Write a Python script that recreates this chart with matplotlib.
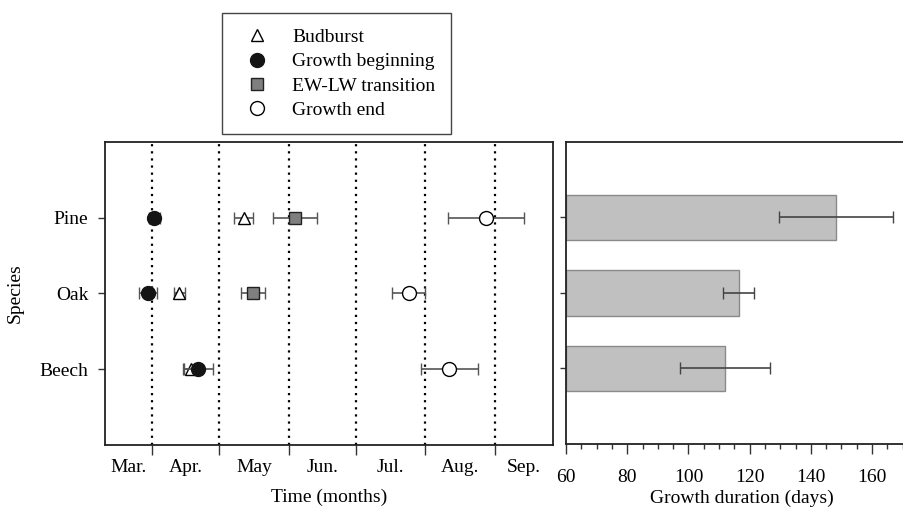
import numpy as np
import matplotlib
matplotlib.use('Agg')
import matplotlib.pyplot as plt
from matplotlib.lines import Line2D

plt.rcParams['font.family'] = ['Liberation Serif', 'DejaVu Serif']
plt.rcParams['font.size'] = 14

species = ['Beech', 'Oak', 'Pine']
ypos = np.arange(1, len(species) + 1)

# day of year, mean and error (Beech, Oak, Pine)
budburst = [108.4, 103.2, 131.9]
budburst_err = [3.0, 2.4, 4.3]
growth_begin = [111.5, 89.2, 92.0]
growth_begin_err = [6.9, 4.0, 2.5]
ewlw = [np.nan, 135.9, 154.7]
ewlw_err = [np.nan, 5.3, 9.9]
growth_end = [223.7, 205.6, 240.2]
growth_end_err = [12.7, 7.4, 17.0]

# growth duration (days)
duration = [112.1, 116.4, 148.3]
duration_err = [14.7, 5.0, 18.6]

month_starts = [91, 121, 152, 182, 213, 244]
month_names = ['Mar.', 'Apr.', 'May', 'Jun.', 'Jul.', 'Aug.', 'Sep.']
xmin, xmax = 70, 270

fig = plt.figure(figsize=(9.04, 5.08), dpi=100)
ax = fig.add_axes([0.1162, 0.124, 0.4956, 0.5965])
ax2 = fig.add_axes([0.6261, 0.126, 0.3894, 0.5945])

ecol = '#555555'
for m in month_starts:
    ax.axvline(m, color='black', linestyle=(0, (1, 2.2)), linewidth=1.6, zorder=1)

ax.errorbar(budburst, ypos, xerr=budburst_err, fmt='^', ms=9, mfc='white', mec='black',
            mew=1.0, ecolor=ecol, elinewidth=1.2, capsize=4.5, zorder=3)
ax.errorbar(ewlw, ypos, xerr=ewlw_err, fmt='s', ms=8, mfc='#7f7f7f', mec='#222222',
            mew=1.0, ecolor=ecol, elinewidth=1.2, capsize=4.5, zorder=3)
ax.errorbar(growth_end, ypos, xerr=growth_end_err, fmt='o', ms=10, mfc='white', mec='black',
            mew=1.0, ecolor=ecol, elinewidth=1.2, capsize=4.5, zorder=3)
ax.errorbar(growth_begin, ypos, xerr=growth_begin_err, fmt='o', ms=10, mfc='#141414', mec='#141414',
            mew=1.0, ecolor=ecol, elinewidth=1.2, capsize=4.5, zorder=4)

ax.set_xlim(xmin, xmax)
ax.set_ylim(0, 4)
ax.set_yticks(ypos)
ax.set_yticklabels(species)
ax.set_xticks(month_starts)
ax.set_xticklabels([])
edges = [xmin] + month_starts + [xmax]
mids = [(a + b) / 2 for a, b in zip(edges[:-1], edges[1:])]
ax.set_xticks(mids, minor=True)
ax.set_xticklabels(month_names, minor=True)
ax.tick_params(axis='x', which='major', direction='out', length=7, width=1, color='#333333')
ax.tick_params(axis='x', which='minor', length=0, pad=10)
ax.tick_params(axis='y', direction='out', length=5, width=1, color='#333333', pad=7)
ax.set_xlabel('Time (months)', labelpad=9)
ax.set_ylabel('Species', labelpad=11)
for s in ax.spines.values():
    s.set_linewidth(1.3)
    s.set_color('#222222')

# right panel
ax2.barh(ypos, np.array(duration) - 60, left=60, height=0.6, color='#c0c0c0',
         edgecolor='#8a8a8a', linewidth=1.0, zorder=2)
ax2.errorbar(duration, ypos, xerr=duration_err, fmt='none', ecolor='#444444',
             elinewidth=1.2, capsize=4, zorder=3)
ax2.set_xlim(60, 175)
ax2.set_ylim(0, 4)
ax2.set_yticks(ypos)
ax2.set_yticklabels([])
ax2.set_xticks(np.arange(60, 171, 20))
ax2.set_xticks(np.arange(60, 176, 5), minor=True)
ax2.tick_params(axis='x', which='major', direction='out', length=7, width=1, color='#333333', pad=11)
ax2.tick_params(axis='x', which='minor', direction='out', length=3.5, width=1, color='#333333')
ax2.tick_params(axis='y', direction='out', length=4, width=1, color='#333333')
ax2.set_xlabel('Growth duration (days)', labelpad=3)
ax2.spines['right'].set_visible(False)
for s in ['left', 'top', 'bottom']:
    ax2.spines[s].set_linewidth(1.3)
    ax2.spines[s].set_color('#222222')

handles = [
    Line2D([], [], ls='none', marker='^', ms=9, mfc='white', mec='black'),
    Line2D([], [], ls='none', marker='o', ms=10, mfc='#141414', mec='#141414'),
    Line2D([], [], ls='none', marker='s', ms=8, mfc='#7f7f7f', mec='#222222'),
    Line2D([], [], ls='none', marker='o', ms=10, mfc='white', mec='black'),
]
labels = ['Budburst', 'Growth beginning', 'EW-LW transition', 'Growth end']
leg = fig.legend(handles, labels, loc='upper left', bbox_to_anchor=(222 / 904, 1 - 13 / 508),
                 fancybox=False, edgecolor='#444444', framealpha=1, labelspacing=0.34,
                 handlelength=2.0, handletextpad=0.8, borderpad=0.8, borderaxespad=0)
leg.get_frame().set_linewidth(1.0)

fig.savefig('out.png', dpi=100)
